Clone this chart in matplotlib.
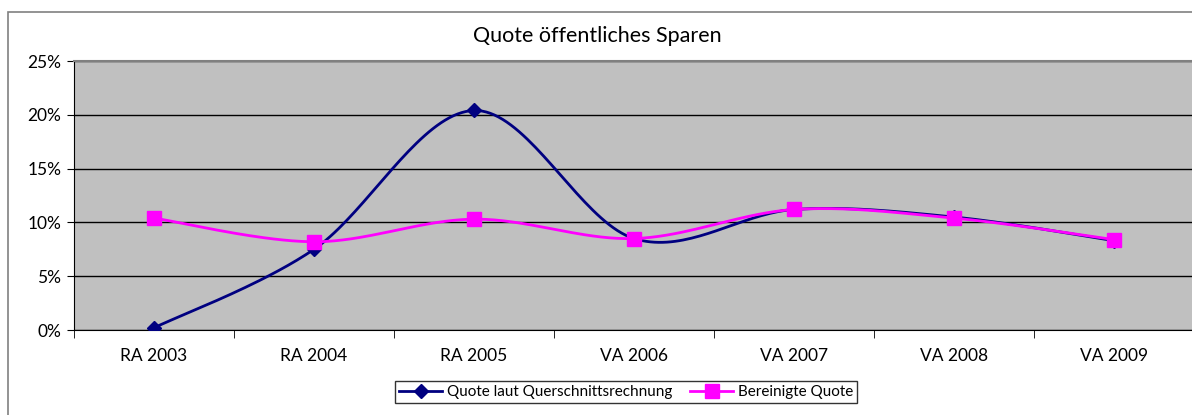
import matplotlib.pyplot as plt
import matplotlib.patches as patches
import numpy as np

# data
categories = ["RA 2003", "RA 2004", "RA 2005", "VA 2006", "VA 2007", "VA 2008", "VA 2009"]
quote_qs = [0.2, 7.5, 20.4, 8.5, 11.2, 10.5, 8.3]
quote_ber = [10.4, 8.2, 10.3, 8.5, 11.2, 10.4, 8.4]


def smooth(x, y, n=40):
    # Excel-like smoothed line (Catmull-Rom through the points)
    x = np.asarray(x, float)
    y = np.asarray(y, float)
    px = np.concatenate([[x[0]], x, [x[-1]]])
    py = np.concatenate([[y[0]], y, [y[-1]]])
    xs, ys = [], []
    for i in range(1, len(px) - 2):
        t = np.linspace(0, 1, n)
        for p, out in ((px, xs), (py, ys)):
            p0, p1, p2, p3 = p[i - 1], p[i], p[i + 1], p[i + 2]
            c1 = p1 + (p2 - p0) / 6
            c2 = p2 - (p3 - p1) / 6
            out.extend((1 - t) ** 3 * p1 + 3 * (1 - t) ** 2 * t * c1
                       + 3 * (1 - t) * t ** 2 * c2 + t ** 3 * p2)
    return xs, ys


plt.rcParams['font.family'] = ['Lato', 'DejaVu Sans']

fig = plt.figure(figsize=(11.92, 4.15), dpi=100)
fig.patches.append(patches.Rectangle((8 / 1192, -0.1), 1.2, 1.1 - 12 / 415,
                                     transform=fig.transFigure, fill=False,
                                     edgecolor="#808080", linewidth=1.2))

ax = fig.add_axes([74 / 1192, 1 - 330 / 415, 1120 / 1192, 269 / 415])
ax.set_facecolor("#C0C0C0")

x = np.arange(len(categories))
for vals, color, marker, ms, label in (
        (quote_qs, "#000080", "D", 7, "Quote laut Querschnittsrechnung"),
        (quote_ber, "#FF00FF", "s", 10, "Bereinigte Quote")):
    sx, sy = smooth(x, vals)
    ax.plot(sx, sy, color=color, linewidth=2, zorder=3)
    ax.plot(x, vals, linestyle="none", marker=marker, markersize=ms,
            color=color, zorder=4)
    ax.plot([], [], color=color, linewidth=2, marker=marker, markersize=ms, label=label)

ax.set_xlim(-0.5, len(categories) - 0.5)
ax.set_ylim(0, 25)
ax.set_yticks(range(0, 26, 5))
ax.set_yticklabels([f"{v}%" for v in range(0, 26, 5)], fontsize=12.5)
ax.set_xticks(x)
ax.set_xticklabels(categories, fontsize=12.5)
ax.set_xticks(np.arange(-0.5, len(categories), 1), minor=True)
ax.tick_params(axis="x", which="major", length=0, pad=13)
ax.tick_params(axis="x", which="minor", length=6, direction="out", color="black")
ax.tick_params(axis="y", length=5, direction="out", pad=4, color="black")
ax.grid(axis="y", color="black", linewidth=1)
ax.set_axisbelow(True)
for side in ("top", "right"):
    ax.spines[side].set_color("#808080")
    ax.spines[side].set_linewidth(1.5)
ax.spines["left"].set_color("black")
ax.spines["bottom"].set_color("black")

fig.text(597 / 1192, 1 - 36 / 415, "Quote öffentliches Sparen", ha="center", va="center",
         fontsize=15.5)

leg = fig.legend(loc="center", bbox_to_anchor=(626 / 1192, 1 - 392 / 415), ncol=2,
                 fontsize=11, frameon=True, fancybox=False, edgecolor="black",
                 borderpad=0.25, handlelength=2.8, columnspacing=1.2, handletextpad=0.3)
leg.get_frame().set_linewidth(1)

fig.savefig("out.png", dpi=100)
